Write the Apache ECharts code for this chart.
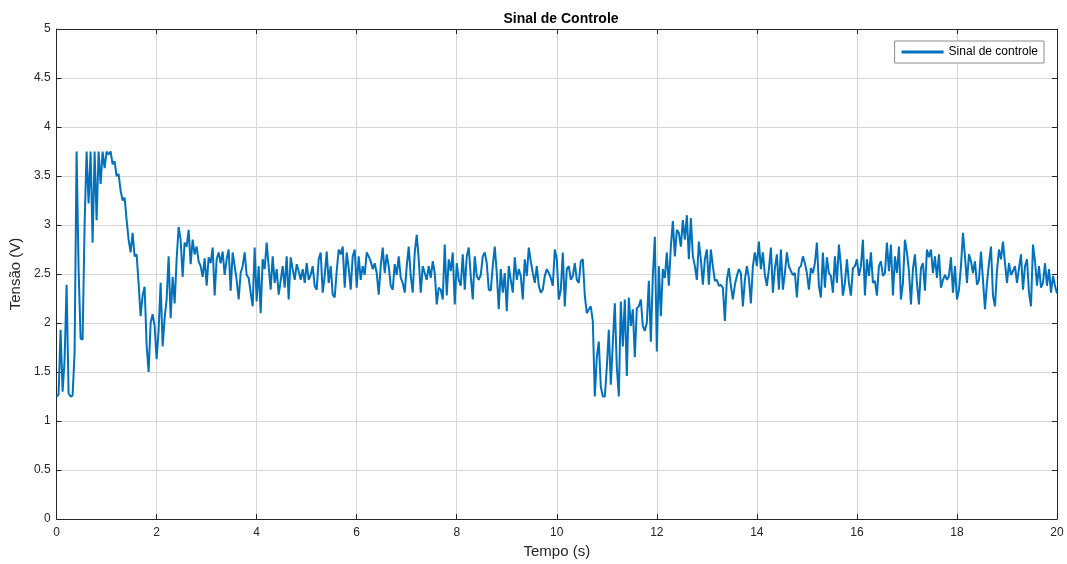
<!DOCTYPE html>
<html>
<head>
<meta charset="utf-8">
<title>Sinal de Controle</title>
<script src="https://cdn.jsdelivr.net/npm/echarts@6.0.0/dist/echarts.min.js"></script>
<style>
  html, body { margin: 0; padding: 0; background: #fff; }
  #chart { width: 1067px; height: 564px; }
</style>
</head>
<body>
<div id="chart"></div>
<script>
// amostragem do sinal (s)
const tInicial = 0;
const passo = 0.04;

// sinal de controle (V), um bloco por segundo, 25 amostras cada
const sinal00a05 = [
  1.25, 1.27, 1.93, 1.30, 1.62, 2.39, 1.28, 1.25, 1.26, 1.70, 3.75, 2.55, 1.84, 1.83, 3.00, 3.75, 3.22, 3.75, 2.82, 3.75, 3.05, 3.75, 3.42, 3.75, 3.58,
  3.75, 3.72, 3.75, 3.62, 3.65, 3.50, 3.52, 3.35, 3.25, 3.28, 3.05, 2.85, 2.72, 2.92, 2.68, 2.70, 2.40, 2.07, 2.28, 2.37, 1.77, 1.50, 2.00, 2.09, 1.97,
  1.63, 1.93, 2.41, 1.76, 2.05, 2.24, 2.68, 2.05, 2.47, 2.20, 2.65, 2.98, 2.85, 2.47, 2.82, 2.78, 2.95, 2.60, 2.85, 2.70, 2.78, 2.63, 2.58, 2.47, 2.66,
  2.38, 2.67, 2.61, 2.77, 2.28, 2.65, 2.72, 2.61, 2.73, 2.49, 2.65, 2.75, 2.33, 2.72, 2.58, 2.44, 2.24, 2.51, 2.58, 2.72, 2.49, 2.46, 2.31, 2.17, 2.77,
  2.22, 2.58, 2.10, 2.65, 2.55, 2.82, 2.58, 2.34, 2.68, 2.41, 2.55, 2.29, 2.43, 2.58, 2.36, 2.68, 2.24, 2.67, 2.55, 2.44, 2.60, 2.53, 2.44, 2.55, 2.41
];
const sinal05a10 = [
  2.61, 2.44, 2.49, 2.58, 2.38, 2.34, 2.65, 2.72, 2.31, 2.48, 2.73, 2.41, 2.58, 2.29, 2.26, 2.53, 2.75, 2.70, 2.78, 2.36, 2.72, 2.56, 2.34, 2.68, 2.75,
  2.36, 2.68, 2.44, 2.58, 2.49, 2.72, 2.68, 2.63, 2.55, 2.61, 2.51, 2.29, 2.58, 2.77, 2.51, 2.70, 2.58, 2.38, 2.34, 2.60, 2.49, 2.68, 2.46, 2.41, 2.31,
  2.58, 2.78, 2.48, 2.31, 2.72, 2.90, 2.65, 2.31, 2.58, 2.51, 2.44, 2.58, 2.46, 2.63, 2.51, 2.19, 2.36, 2.34, 2.24, 2.80, 2.28, 2.65, 2.53, 2.72, 2.19,
  2.61, 2.44, 2.38, 2.70, 2.34, 2.68, 2.77, 2.48, 2.24, 2.68, 2.48, 2.44, 2.49, 2.68, 2.72, 2.61, 2.34, 2.33, 2.58, 2.78, 2.51, 2.14, 2.55, 2.31, 2.51,
  2.12, 2.58, 2.44, 2.31, 2.67, 2.44, 2.55, 2.48, 2.24, 2.65, 2.48, 2.77, 2.63, 2.51, 2.41, 2.58, 2.38, 2.31, 2.34, 2.48, 2.55, 2.51, 2.46, 2.38, 2.75
];
const sinal10a15 = [
  2.65, 2.24, 2.34, 2.72, 2.17, 2.55, 2.58, 2.44, 2.48, 2.61, 2.44, 2.41, 2.63, 2.65, 2.28, 2.10, 2.14, 2.17, 2.02, 1.25, 1.65, 1.81, 1.35, 1.25, 1.25,
  1.55, 1.93, 1.37, 1.80, 2.20, 1.55, 1.25, 2.22, 1.76, 2.24, 1.46, 2.26, 1.97, 2.14, 1.65, 2.15, 2.17, 2.24, 1.97, 1.92, 2.00, 2.43, 1.81, 2.48, 2.88,
  1.71, 2.58, 2.07, 2.55, 2.46, 2.72, 2.38, 2.78, 3.04, 2.68, 2.95, 2.92, 2.78, 3.05, 2.85, 3.10, 2.65, 3.07, 2.68, 2.58, 2.44, 2.83, 2.65, 2.39, 2.65,
  2.75, 2.39, 2.75, 2.58, 2.43, 2.44, 2.38, 2.39, 2.36, 2.02, 2.44, 2.56, 2.38, 2.24, 2.39, 2.48, 2.55, 2.51, 2.17, 2.44, 2.58, 2.46, 2.20, 2.58, 2.72,
  2.58, 2.83, 2.55, 2.72, 2.49, 2.38, 2.55, 2.77, 2.31, 2.56, 2.70, 2.34, 2.75, 2.34, 2.51, 2.72, 2.58, 2.53, 2.49, 2.51, 2.26, 2.56, 2.58, 2.68, 2.61
];
const sinal15a20 = [
  2.51, 2.34, 2.56, 2.51, 2.61, 2.82, 2.38, 2.26, 2.72, 2.36, 2.67, 2.51, 2.48, 2.31, 2.68, 2.41, 2.80, 2.58, 2.28, 2.41, 2.65, 2.41, 2.28, 2.56, 2.58,
  2.65, 2.48, 2.58, 2.85, 2.28, 2.65, 2.48, 2.72, 2.41, 2.43, 2.28, 2.58, 2.63, 2.48, 2.51, 2.82, 2.53, 2.80, 2.28, 2.68, 2.51, 2.78, 2.24, 2.41, 2.85,
  2.72, 2.53, 2.19, 2.55, 2.70, 2.41, 2.19, 2.56, 2.61, 2.33, 2.75, 2.67, 2.75, 2.51, 2.68, 2.46, 2.70, 2.36, 2.44, 2.49, 2.44, 2.48, 2.67, 2.31, 2.58,
  2.24, 2.34, 2.58, 2.92, 2.68, 2.41, 2.70, 2.63, 2.51, 2.63, 2.39, 2.44, 2.73, 2.44, 2.14, 2.41, 2.61, 2.78, 2.28, 2.17, 2.53, 2.75, 2.65, 2.83, 2.61,
  2.41, 2.61, 2.49, 2.53, 2.58, 2.41, 2.56, 2.70, 2.34, 2.58, 2.65, 2.31, 2.17, 2.80, 2.63, 2.38, 2.58, 2.36, 2.41, 2.61, 2.38, 2.55, 2.31, 2.48, 2.38,
  2.30
];

const ticksX = [0, 20, 2];     // min, max, intervalo
const ticksY = [0, 5, 0.5];

const sinal = sinal00a05.concat(sinal05a10, sinal10a15, sinal15a20);
const pontos = [];
for (let i = 0; i < sinal.length; i++) {
  pontos.push([+(tInicial + i * passo).toFixed(2), sinal[i]]);
}

const corEixo = '#262626';
const corGrade = '#d6d6d6';
const fonte = '"Liberation Sans", Arial, Helvetica, sans-serif';

const myChart = echarts.init(document.getElementById('chart'));

// eixos da "caixa" (topo e direita), so linha e ticks
const eixoCaixa = {
  show: true,
  axisLine: { show: true, onZero: false, lineStyle: { color: corEixo, width: 1 } },
  axisTick: { show: true, inside: true, length: 5, lineStyle: { color: corEixo } },
  axisLabel: { show: false },
  splitLine: { show: false }
};

const option = {
  animation: false,
  backgroundColor: '#ffffff',
  title: {
    text: 'Sinal de Controle',
    left: 556,
    textAlign: 'center',
    top: 7,
    textStyle: { fontFamily: fonte, fontSize: 14, fontWeight: 'bold', color: '#000' }
  },
  legend: {
    data: [{ name: 'Sinal de controle', icon: 'rect' }],
    right: 23,
    top: 41,
    itemWidth: 42,
    itemHeight: 3,
    itemGap: 4,
    padding: [5, 6, 5, 7],
    borderColor: '#8c8c8c',
    borderWidth: 1,
    backgroundColor: '#fff',
    textStyle: { fontFamily: fonte, fontSize: 12, color: '#000' }
  },
  grid: { left: 55, right: 10, top: 29, bottom: 44, containLabel: false },
  xAxis: [
    {
      type: 'value',
      min: ticksX[0], max: ticksX[1], interval: ticksX[2],
      name: 'Tempo (s)',
      nameLocation: 'middle',
      nameGap: 25,
      nameTextStyle: { fontFamily: fonte, fontSize: 15, color: corEixo },
      axisLine: { show: true, onZero: false, lineStyle: { color: corEixo, width: 1 } },
      axisTick: { show: true, inside: true, length: 5, lineStyle: { color: corEixo } },
      axisLabel: { margin: 8, fontFamily: fonte, fontSize: 12, color: corEixo },
      splitLine: { show: true, lineStyle: { color: corGrade, width: 1 } }
    },
    Object.assign({ type: 'value', position: 'top', min: ticksX[0], max: ticksX[1], interval: ticksX[2] }, eixoCaixa)
  ],
  yAxis: [
    {
      type: 'value',
      min: ticksY[0], max: ticksY[1], interval: ticksY[2],
      name: 'Tensão (V)',
      nameLocation: 'middle',
      nameGap: 30,
      nameTextStyle: { fontFamily: fonte, fontSize: 15, color: corEixo },
      axisLine: { show: true, onZero: false, lineStyle: { color: corEixo, width: 1 } },
      axisTick: { show: true, inside: true, length: 5, lineStyle: { color: corEixo } },
      axisLabel: { margin: 6, fontFamily: fonte, fontSize: 12, color: corEixo },
      splitLine: { show: true, lineStyle: { color: corGrade, width: 1 } }
    },
    Object.assign({ type: 'value', position: 'right', min: ticksY[0], max: ticksY[1], interval: ticksY[2] }, eixoCaixa)
  ],
  series: [
    {
      name: 'Sinal de controle',
      type: 'line',
      data: pontos,
      showSymbol: false,
      symbol: 'none',
      lineStyle: { color: '#0072BD', width: 2 },
      itemStyle: { color: '#0072BD' },
      z: 3
    }
  ]
};

myChart.setOption(option);
</script>
</body>
</html>
